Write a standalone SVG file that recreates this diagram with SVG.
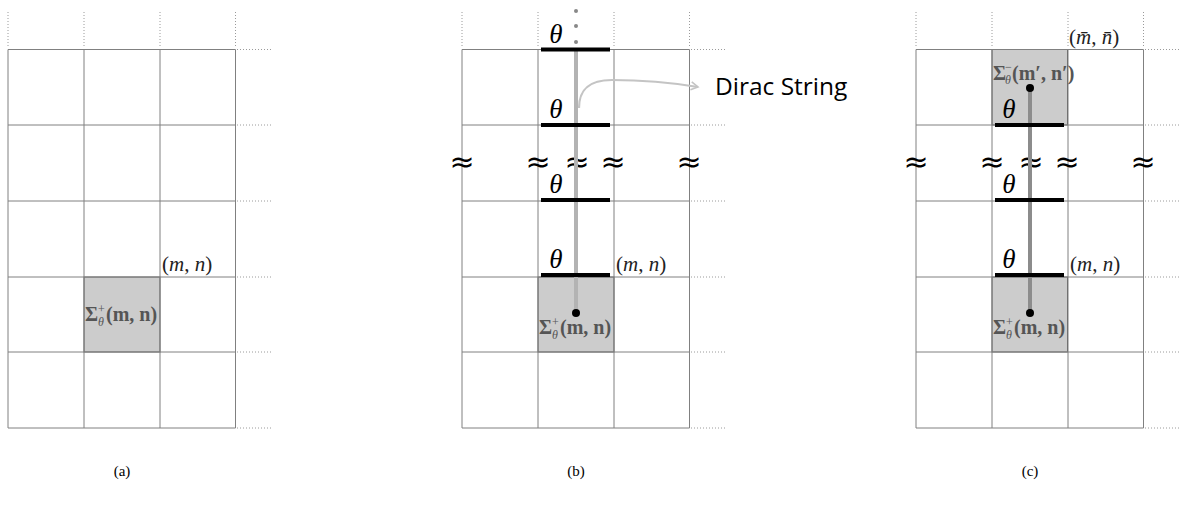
<svg xmlns="http://www.w3.org/2000/svg" width="1180" height="513" viewBox="0 0 1180 513">
<style>
.grid{stroke:#808080;stroke-width:1;fill:none}
.dot{stroke:#9a9a9a;stroke-width:1;stroke-dasharray:1 2;fill:none}
.shade{fill:#cccccc;stroke:#606060;stroke-width:1}
.bar{stroke:#000;stroke-width:4}
.theta{font-family:"Liberation Serif",serif;font-style:italic;font-size:27px;fill:#000}
.mn{font-family:"Liberation Serif",serif;font-size:21px;fill:#222}
.sig{font-family:"Liberation Serif",serif;font-weight:bold;font-size:20px;fill:#555}
.ss{font-family:"Liberation Serif",serif;font-size:12px;fill:#555}
.ssi{font-family:"Liberation Serif",serif;font-size:12px;font-style:italic;fill:#555}
.approx{font-family:"DejaVu Sans",sans-serif;font-size:30px;fill:#000}
.cap{font-family:"Liberation Serif",serif;font-size:15px;fill:#000}
</style>
<defs>
<marker id="ah" viewBox="0 0 10 10" refX="8" refY="5" markerWidth="10" markerHeight="10" markerUnits="userSpaceOnUse" orient="auto">
<path d="M1,1 L8,5 L1,9" fill="none" stroke="#c4c4c4" stroke-width="1.6"/>
</marker>
<g id="gridA">
<path class="dot" d="M8,12V48M84,12V48M160,12V48M235.5,12V48M237,49.5H273M237,125H273M237,201H273M237,277H273M237,352H273M237,428H273"/>
</g>
<g id="lines">
<path class="grid" d="M8,49.5H235.5M8,125H235.5M8,201H235.5M8,277H235.5M8,352H235.5M8,428H235.5M8,49.5V428M84,49.5V428M160,49.5V428M235.5,49.5V428"/>
</g>
<g id="sigp">
<text class="sig" x="0" y="0">Σ</text>
<text class="ss" x="13" y="-8">+</text>
<text class="ssi" x="13" y="5">θ</text>
<text class="sig" x="21" y="0">(m, n)</text>
</g>
</defs>

<g id="panel-a">
<use href="#gridA"/>
<rect class="shade" x="84" y="277" width="76" height="75"/>
<use href="#lines"/>
<text class="mn" x="162" y="271"><tspan>(</tspan><tspan font-style="italic">m</tspan><tspan>, </tspan><tspan font-style="italic">n</tspan><tspan>)</tspan></text>
<use href="#sigp" x="85" y="321"/>
<text class="cap" x="122" y="476" text-anchor="middle">(a)</text>
</g>

<g id="panel-b" transform="translate(454,0)">
<use href="#gridA"/>
<rect class="shade" x="84" y="277" width="76" height="75"/>
<use href="#lines"/>
</g>
<g id="panel-b-items">
<g id="approx-b" class="approx" text-anchor="middle">
<text x="462" y="172">≈</text><text x="538" y="172">≈</text><text x="577" y="172">≈</text><text x="613" y="172">≈</text><text x="689" y="172">≈</text>
</g>
<line x1="576" y1="49" x2="576" y2="313" stroke="#b3b3b3" stroke-width="4"/>
<circle cx="576" cy="11" r="2" fill="#888"/><circle cx="576" cy="26" r="2" fill="#888"/><circle cx="576" cy="42" r="2" fill="#888"/>
<line class="bar" x1="541" y1="49.5" x2="610" y2="49.5"/>
<line class="bar" x1="541" y1="125" x2="610" y2="125"/>
<line class="bar" x1="541" y1="200" x2="610" y2="200"/>
<line class="bar" x1="541" y1="275" x2="610" y2="275"/>
<text class="theta" x="556" y="43" text-anchor="middle">θ</text>
<text class="theta" x="556" y="118" text-anchor="middle">θ</text>
<text class="theta" x="556" y="193" text-anchor="middle">θ</text>
<text class="theta" x="556" y="268" text-anchor="middle">θ</text>
<circle cx="576" cy="313" r="4" fill="#000"/>
<text class="mn" x="616" y="271"><tspan>(</tspan><tspan font-style="italic">m</tspan><tspan>, </tspan><tspan font-style="italic">n</tspan><tspan>)</tspan></text>
<use href="#sigp" x="539" y="334"/>
<text class="cap" x="576" y="476" text-anchor="middle">(b)</text>
</g>

<g id="connectors">
<path d="M579,108 C579,92 586,80 612,80 C650,80 680,84 698,87" fill="none" stroke="#c4c4c4" stroke-width="2.2" marker-end="url(#ah)"/>
</g>
<g id="dirac-label">
<text x="715" y="95" font-family="Open Sans, Liberation Sans, sans-serif" font-size="24.5" fill="#000">Dirac String</text>
</g>

<g id="panel-c" transform="translate(908,0)">
<use href="#gridA"/>
<rect class="shade" x="84" y="277" width="75.5" height="75"/>
<rect class="shade" x="84" y="49.5" width="75.5" height="75.5"/>
<use href="#lines"/>
</g>
<g id="panel-c-items">
<g id="approx-c" class="approx" text-anchor="middle">
<text x="916" y="172">≈</text><text x="992" y="172">≈</text><text x="1031" y="172">≈</text><text x="1067" y="172">≈</text><text x="1143" y="172">≈</text>
</g>
<line x1="1030" y1="88" x2="1030" y2="313" stroke="#8c8c8c" stroke-width="4"/>
<line class="bar" x1="995" y1="125" x2="1064" y2="125"/>
<line class="bar" x1="995" y1="200" x2="1064" y2="200"/>
<line class="bar" x1="995" y1="275" x2="1064" y2="275"/>
<text class="theta" x="1009" y="118" text-anchor="middle">θ</text>
<text class="theta" x="1009" y="193" text-anchor="middle">θ</text>
<text class="theta" x="1009" y="268" text-anchor="middle">θ</text>
<circle cx="1030" cy="88" r="4" fill="#000"/>
<circle cx="1030" cy="313" r="4" fill="#000"/>
<text class="mn" x="1070" y="271"><tspan>(</tspan><tspan font-style="italic">m</tspan><tspan>, </tspan><tspan font-style="italic">n</tspan><tspan>)</tspan></text>
<text class="mn" x="1069" y="44"><tspan>(</tspan><tspan font-style="italic">m̄</tspan><tspan>, </tspan><tspan font-style="italic">n̄</tspan><tspan>)</tspan></text>
<use href="#sigp" x="993" y="334"/>
<g id="sig-minus">
<text class="sig" x="993" y="80" font-size="14">Σ</text>
<text class="ss" x="1005" y="71" font-size="8">−</text>
<text class="ssi" x="1005" y="84" font-size="8">θ</text>
<text class="sig" x="1012" y="80" font-size="14">(m′, n′)</text>
</g>
<text class="cap" x="1030" y="476" text-anchor="middle">(c)</text>
</g>
</svg>
